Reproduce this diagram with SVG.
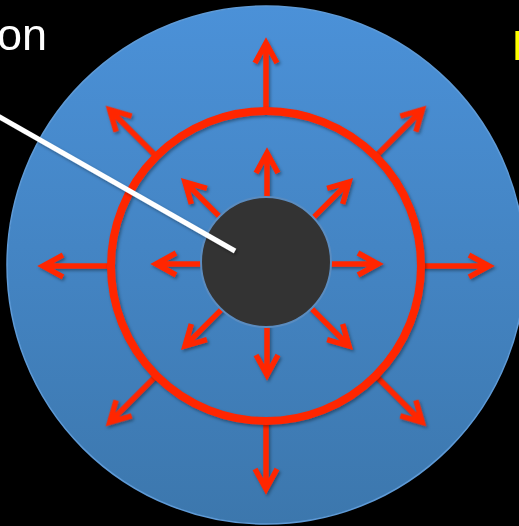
<svg xmlns="http://www.w3.org/2000/svg" width="519" height="526" viewBox="0 0 519 526">
  <defs>
    <linearGradient id="disc" x1="0" y1="0" x2="0" y2="1">
      <stop offset="0" stop-color="#4b91d8"/>
      <stop offset="1" stop-color="#3c77ad"/>
    </linearGradient>
    <filter id="shadow" x="-20%" y="-20%" width="140%" height="140%">
      <feDropShadow dx="1.5" dy="2" stdDeviation="1.5" flood-color="#000" flood-opacity="0.35"/>
    </filter>
    <path id="inAxis" d="M0,-60 V-111 M-11,-91 L0,-111 L11,-91"/>
    <path id="inDiag" d="M0,-60 V-116 M-11,-96 L0,-116 L11,-96"/>
    <path id="outAxis" d="M0,-155 V-223 M-11,-203 L0,-223 L11,-203"/>
    <path id="outDiag" d="M0,-155 V-221 M-11,-201 L0,-221 L11,-201"/>
  </defs>
  <style>
    .arrow { fill: none; stroke: #ff2600; stroke-width: 5.5; stroke-linejoin: miter; stroke-miterlimit: 10; }
    .label { font-family: "Liberation Sans", Arial, sans-serif; }
  </style>
  <rect id="background" x="0" y="0" width="519" height="526" fill="#000"/>
  <g id="disc-node">
    <circle cx="266" cy="265" r="259" fill="url(#disc)" stroke="#5e9ad6" stroke-width="1.5"/>
  </g>
  <g id="connectors" filter="url(#shadow)">
    <g id="outer-arrows" class="arrow" transform="translate(266,266)">
      <use href="#outAxis"/>
      <use href="#outDiag" transform="rotate(45)"/>
      <use href="#outAxis" transform="rotate(90)"/>
      <use href="#outDiag" transform="rotate(135)"/>
      <use href="#outAxis" transform="rotate(180)"/>
      <use href="#outDiag" transform="rotate(225)"/>
      <use href="#outAxis" transform="rotate(270)"/>
      <use href="#outDiag" transform="rotate(315)"/>
    </g>
    <g id="inner-arrows" class="arrow" transform="translate(267,264)">
      <use href="#inAxis"/>
      <use href="#inDiag" transform="rotate(45)"/>
      <use href="#inAxis" transform="rotate(90)"/>
      <use href="#inDiag" transform="rotate(135)"/>
      <use href="#inAxis" transform="rotate(180)"/>
      <use href="#inDiag" transform="rotate(225)"/>
      <use href="#inAxis" transform="rotate(270)"/>
      <use href="#inDiag" transform="rotate(315)"/>
    </g>
  </g>
  <g id="ring-node" filter="url(#shadow)">
    <circle cx="266" cy="266" r="155" fill="none" stroke="#ff2600" stroke-width="8"/>
  </g>
  <g id="core-node">
    <circle cx="266" cy="262" r="65" fill="#333333" stroke="#5a8cc0" stroke-width="2"/>
  </g>
  <g id="pointer" filter="url(#shadow)">
    <line x1="-10" y1="111.5" x2="235" y2="251" stroke="#ffffff" stroke-width="5"/>
  </g>
  <g id="labels">
    <text class="label" x="-3" y="50" font-size="45" fill="#ffffff">on</text>
    <text class="label" x="512" y="60" font-size="42" fill="#ffff00">P</text>
  </g>
</svg>
